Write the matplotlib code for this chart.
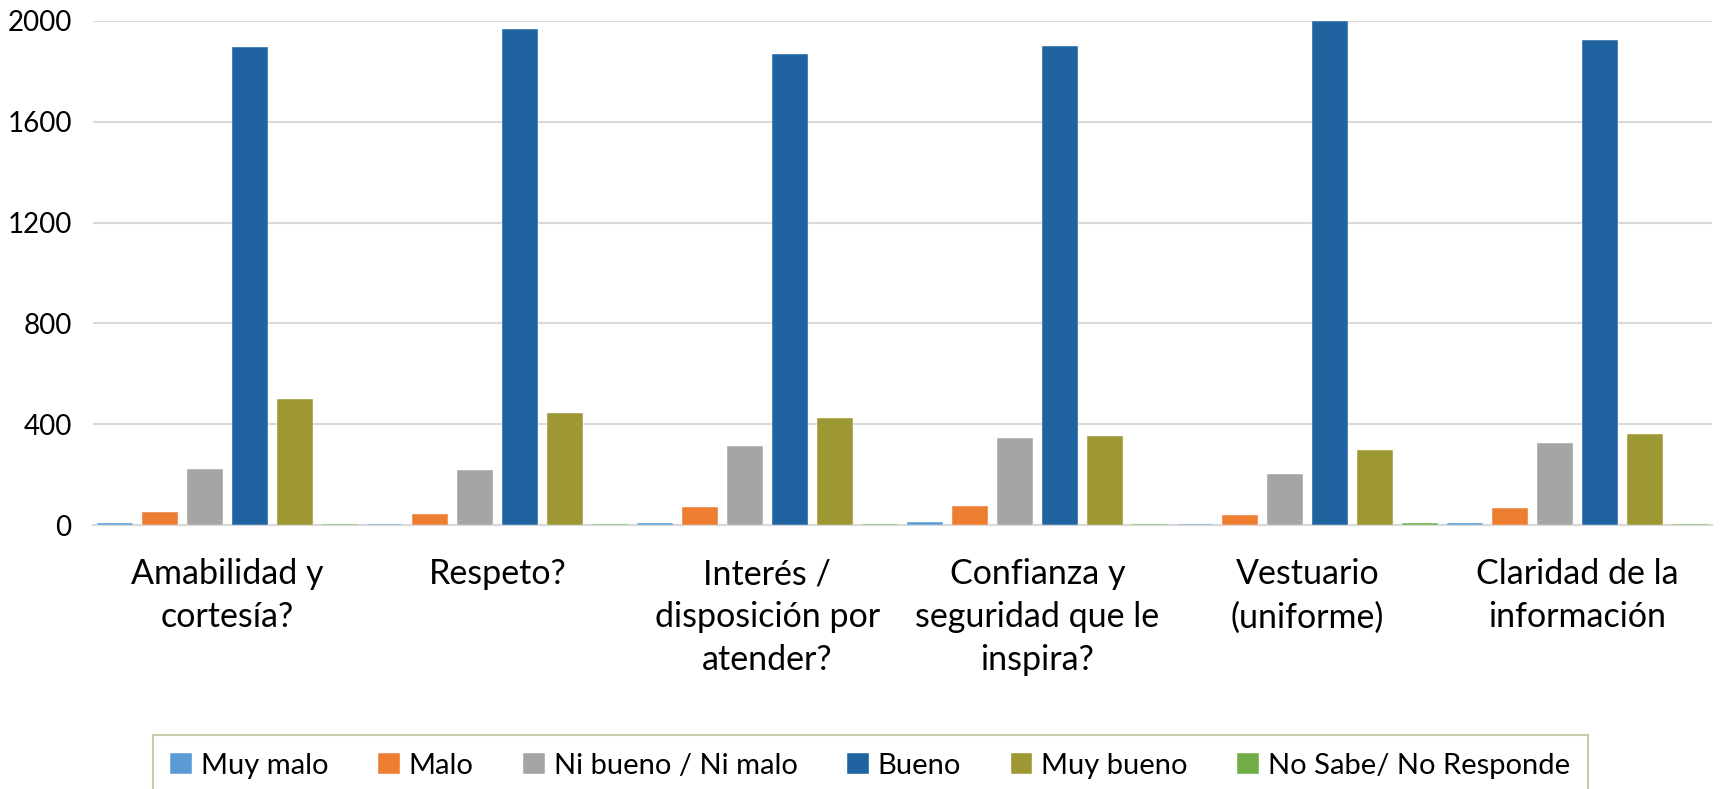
import numpy as np
import matplotlib
matplotlib.use("Agg")
import matplotlib.pyplot as plt

# Categories along the x axis
categories = ["Amabilidad y\ncortesía?", "Respeto?", "Interés /\ndisposición por\natender?",
              "Confianza y\nseguridad que le\ninspira?", "Vestuario\n(uniforme)", "Claridad de la\ninformación"]

# Series values
muy_malo = [7, 5, 8, 11, 4, 7]
malo = [50, 44, 70, 74, 40, 69]
ni_bueno = [223, 217, 313, 344, 202, 325]
bueno = [1898, 1970, 1870, 1900, 2000, 1926]
muy_bueno = [501, 444, 425, 353, 299, 361]
no_sabe = [2, 2, 2, 5, 7, 3]

series_names = ["Muy malo", "Malo", "Ni bueno / Ni malo", "Bueno", "Muy bueno", "No Sabe/ No Responde"]
series_colors = ["#5b9bd5", "#ed7d31", "#a5a5a5", "#1f63a0", "#9e9834", "#70ad47"]
y_ticks = [0, 400, 800, 1200, 1600, 2000]

plt.rcParams['font.family'] = ['Lato', 'DejaVu Sans']

fig = plt.figure(figsize=(17.23, 7.89), dpi=100)
ax = fig.add_axes([0.0537, 0.3346, 0.94, 0.6388])

all_series = [muy_malo, malo, ni_bueno, bueno, muy_bueno, no_sabe]
x = np.arange(len(categories))
slot = 1.0 / len(all_series)

# Draw each series of bars
for j, vals in enumerate(all_series):
    ax.bar(x + (j - 2.5) * slot, vals, width=slot * 0.8, color=series_colors[j],
           label=series_names[j], edgecolor="white", linewidth=0.3, zorder=3)

# Axis formatting
ax.set_xlim(-0.5, len(categories) - 0.5)
ax.set_ylim(0, 2000)
ax.set_yticks(y_ticks)
ax.set_yticklabels([str(v) for v in y_ticks], fontsize=20)
ax.set_xticks(x)
ax.set_xticklabels(categories, fontsize=24.5, linespacing=1.42)
ax.tick_params(axis='both', length=0)
ax.tick_params(axis='y', pad=15)
ax.tick_params(axis='x', pad=24)
ax.grid(axis='y', color="#d9d9d9", linewidth=1.5, zorder=0)
for side in ['top', 'right', 'left']:
    ax.spines[side].set_visible(False)
ax.spines['bottom'].set_color("#d9d9d9")
ax.spines['bottom'].set_linewidth(1.5)

# Legend at the bottom, partially cut by the figure edge
leg = fig.legend(loc='upper center', bbox_to_anchor=(0.505, 0.068), ncol=6, fontsize=21,
                 frameon=True, fancybox=False, handlelength=0.75, handleheight=0.75,
                 handletextpad=0.3, columnspacing=1.7, borderpad=0.6, borderaxespad=0)
leg.get_frame().set_edgecolor("#bcbc9a")
leg.get_frame().set_linewidth(1.5)

fig.savefig("out.png", dpi=100)
